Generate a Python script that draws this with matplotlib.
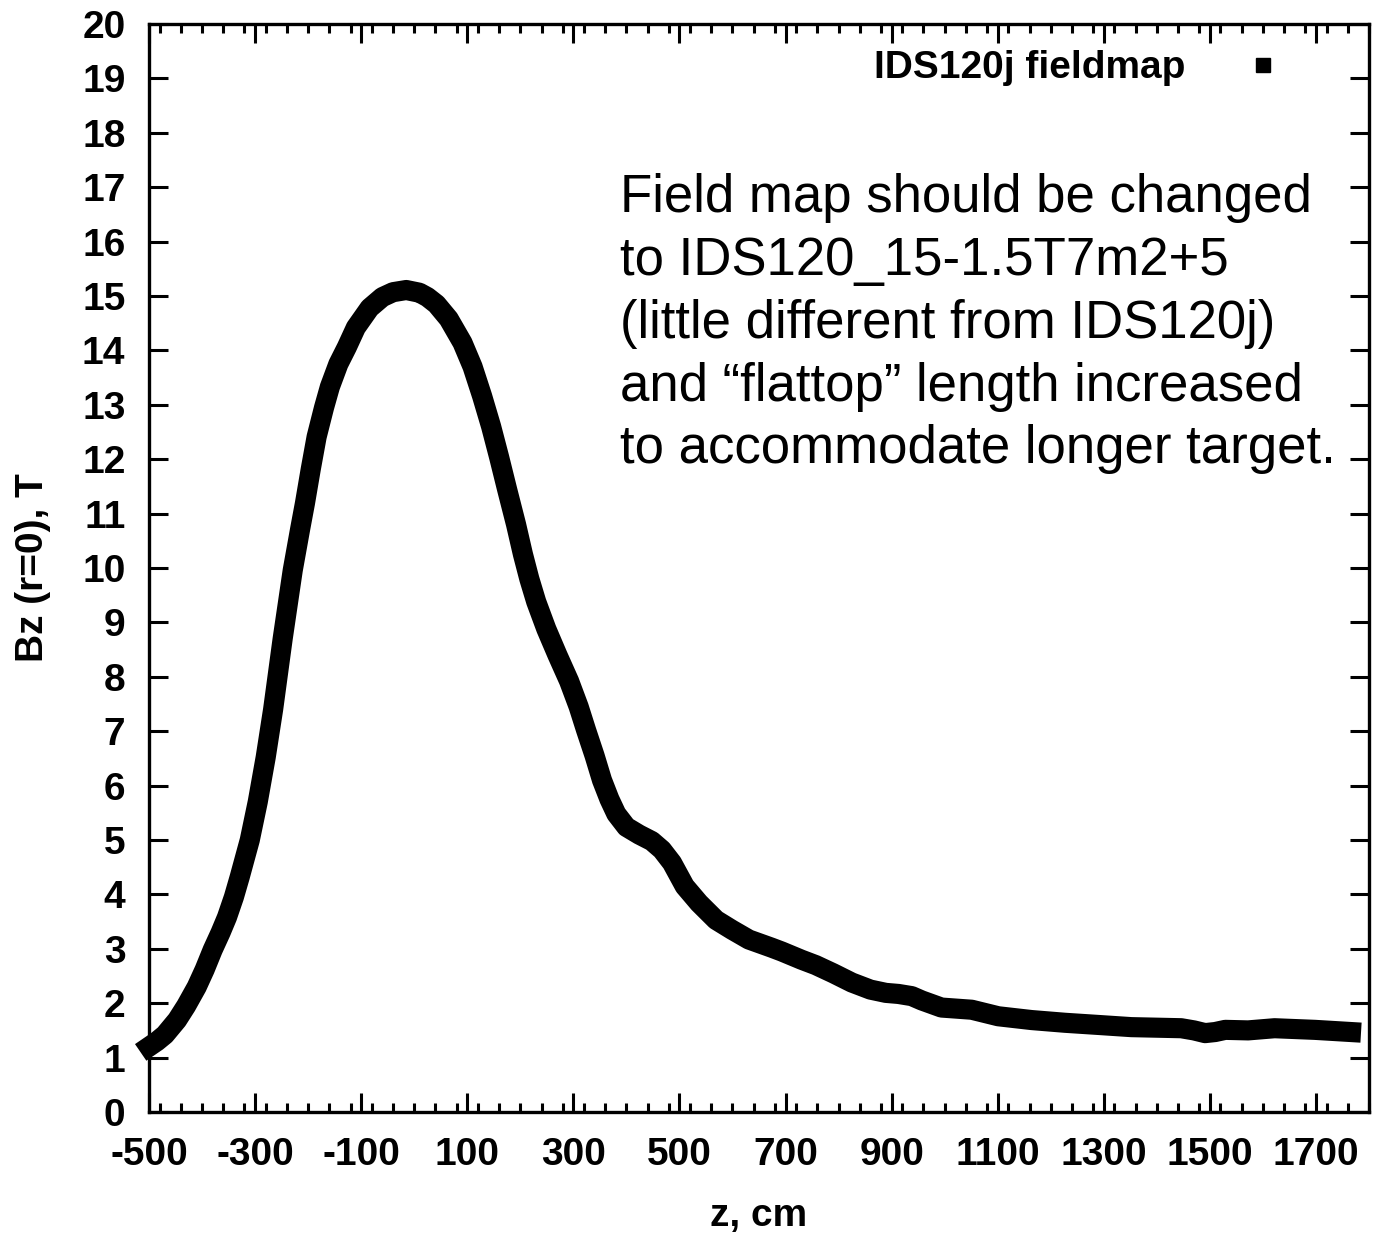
import matplotlib
matplotlib.use("Agg")
import matplotlib.pyplot as plt
from matplotlib.lines import Line2D
from matplotlib.ticker import MultipleLocator

# ── On-axis field Bz(r=0) ────────────────────────────────────────────
z_cm = [
    -500, -485, -470, -447, -430, -410, -395, -380, -365, -353,
    -340, -329, -310, -295, -280, -266, -248, -229, -215, -206,
    -195, -184, -170, -159, -143, -127, -110, -84, -60, -40,
    -15, 10, 25, 42, 65, 91, 110, 128, 145, 160,
    175, 192, 205, 217, 230, 249, 270, 292, 310, 324,
    340, 354, 368, 381, 400, 424, 448, 467, 486, 510,
    537, 569, 599, 631, 674, 693, 730, 757, 790, 825,
    860, 889, 913, 938, 957, 994, 1051, 1101, 1164, 1227,
    1290, 1352, 1446, 1470, 1491, 1510, 1529, 1572, 1622, 1698,
    1766,
]
bz_T = [
    1.20, 1.30, 1.42, 1.69, 1.95, 2.30, 2.62, 2.98, 3.30, 3.58,
    3.95, 4.32, 5.00, 5.70, 6.52, 7.40, 8.70, 9.96, 10.72, 11.19,
    11.82, 12.41, 12.95, 13.33, 13.75, 14.06, 14.42, 14.78, 14.98, 15.07,
    15.11, 15.06, 14.98, 14.85, 14.58, 14.14, 13.70, 13.16, 12.60, 12.04,
    11.45, 10.80, 10.25, 9.80, 9.38, 8.88, 8.40, 7.92, 7.45, 7.02,
    6.55, 6.10, 5.75, 5.48, 5.24, 5.10, 4.98, 4.82, 4.58, 4.15,
    3.84, 3.53, 3.35, 3.17, 3.02, 2.95, 2.80, 2.70, 2.55, 2.38,
    2.25, 2.19, 2.17, 2.13, 2.05, 1.92, 1.88, 1.76, 1.69, 1.64,
    1.60, 1.56, 1.54, 1.50, 1.45, 1.47, 1.51, 1.50, 1.54, 1.51,
    1.47,
]

series_label = "IDS120j fieldmap"
note = ("Field map should be changed\n"
        "to IDS120_15-1.5T7m2+5\n"
        "(little different from IDS120j)\n"
        "and \u201cflattop\u201d length increased\n"
        "to accommodate longer target.")

plt.rcParams["font.family"] = ["Liberation Sans", "DejaVu Sans"]
plt.rcParams["axes.unicode_minus"] = False

fig = plt.figure(figsize=(13.74, 12.38), dpi=100)
ax = fig.add_axes([149 / 1374, 1 - 1112 / 1238, 1220 / 1374, 1088 / 1238])

ax.plot(z_cm, bz_T, color="black", lw=14.5, solid_capstyle="projecting",
        solid_joinstyle="round", clip_on=False)

ax.set_xlim(-500, 1800)
ax.set_ylim(0, 20)
ax.set_xticks(list(range(-500, 1701, 200)))
ax.xaxis.set_minor_locator(MultipleLocator(40))
ax.yaxis.set_major_locator(MultipleLocator(1))

for s in ax.spines.values():
    s.set_linewidth(2.4)
ax.tick_params(which="both", direction="in", top=True, right=True, width=2.2)
ax.tick_params(which="major", length=13.5)
ax.tick_params(which="minor", length=6.8)
ax.tick_params(axis="y", which="minor", length=0)
ax.tick_params(axis="x", pad=18)
ax.tick_params(axis="y", pad=17)
for lab in ax.get_xticklabels() + ax.get_yticklabels():
    lab.set_fontsize(28)
    lab.set_fontweight("bold")

ax.set_xlabel("z, cm", fontsize=28, fontweight="bold", labelpad=18)
ax.set_ylabel("Bz (r=0), T", fontsize=28, fontweight="bold", labelpad=22)

handle = Line2D([], [], ls="none", marker="s", color="black", markersize=10.5)
ax.legend([handle], [series_label], loc="upper right", frameon=False,
          markerfirst=False, bbox_to_anchor=(0.974, 1.008),
          prop={"size": 28, "weight": "bold"}, handletextpad=1.0,
          borderaxespad=0.5)

ax.text(620 / 1374, 1 - 173 / 1238, note, transform=fig.transFigure,
        fontsize=38, va="top", ha="left", linespacing=1.33)

fig.savefig("out.png", dpi=100)
